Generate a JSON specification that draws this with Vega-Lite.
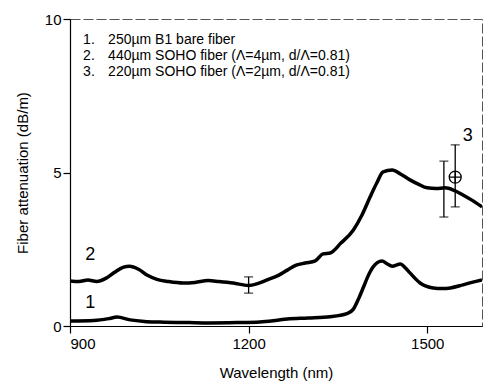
{
  "$schema": "https://vega.github.io/schema/vega-lite/v6.json",
  "width": 412,
  "height": 307,
  "autosize": {"type": "none"},
  "padding": {"left": 70, "top": 19, "right": 1, "bottom": 61},
  "background": "white",
  "config": {
    "font": "Liberation Sans",
    "view": {"stroke": "#555", "strokeWidth": 1, "strokeDash": [10, 3]},
    "axis": {"domainColor": "black", "tickColor": "black", "labelColor": "black", "titleColor": "black", "grid": false, "labelFont": "Liberation Sans", "titleFont": "Liberation Sans", "labelFontSize": 15, "titleFontSize": 15, "titleFontWeight": "normal", "tickSize": 7, "domainWidth": 1.2, "tickWidth": 1.2}
  },
  "datasets": {
    "curves": [
      {"series": "1", "wl": 900, "att": 0.16}, {"series": "1", "wl": 940, "att": 0.18}, {"series": "1", "wl": 965, "att": 0.24}, {"series": "1", "wl": 979, "att": 0.29}, {"series": "1", "wl": 1001, "att": 0.2}, {"series": "1", "wl": 1025, "att": 0.15}, {"series": "1", "wl": 1051, "att": 0.13}, {"series": "1", "wl": 1100, "att": 0.11}, {"series": "1", "wl": 1135, "att": 0.1}, {"series": "1", "wl": 1180, "att": 0.11}, {"series": "1", "wl": 1219, "att": 0.13}, {"series": "1", "wl": 1245, "att": 0.18}, {"series": "1", "wl": 1265, "att": 0.23}, {"series": "1", "wl": 1300, "att": 0.26}, {"series": "1", "wl": 1337, "att": 0.3}, {"series": "1", "wl": 1365, "att": 0.4}, {"series": "1", "wl": 1376, "att": 0.55}, {"series": "1", "wl": 1385, "att": 0.9}, {"series": "1", "wl": 1393, "att": 1.27}, {"series": "1", "wl": 1400, "att": 1.6}, {"series": "1", "wl": 1409, "att": 1.92}, {"series": "1", "wl": 1424, "att": 2.12}, {"series": "1", "wl": 1433, "att": 2.02}, {"series": "1", "wl": 1441, "att": 1.95}, {"series": "1", "wl": 1455, "att": 2.02}, {"series": "1", "wl": 1463, "att": 1.9}, {"series": "1", "wl": 1471, "att": 1.73}, {"series": "1", "wl": 1488, "att": 1.4}, {"series": "1", "wl": 1510, "att": 1.24}, {"series": "1", "wl": 1525, "att": 1.22}, {"series": "1", "wl": 1539, "att": 1.24}, {"series": "1", "wl": 1560, "att": 1.34}, {"series": "1", "wl": 1575, "att": 1.42}, {"series": "1", "wl": 1592, "att": 1.5},
      {"series": "2", "wl": 900, "att": 1.47}, {"series": "2", "wl": 915, "att": 1.45}, {"series": "2", "wl": 930, "att": 1.5}, {"series": "2", "wl": 945, "att": 1.45}, {"series": "2", "wl": 960, "att": 1.55}, {"series": "2", "wl": 975, "att": 1.75}, {"series": "2", "wl": 990, "att": 1.92}, {"series": "2", "wl": 1000, "att": 1.95}, {"series": "2", "wl": 1015, "att": 1.85}, {"series": "2", "wl": 1030, "att": 1.65}, {"series": "2", "wl": 1046, "att": 1.52}, {"series": "2", "wl": 1065, "att": 1.45}, {"series": "2", "wl": 1090, "att": 1.4}, {"series": "2", "wl": 1110, "att": 1.42}, {"series": "2", "wl": 1132, "att": 1.48}, {"series": "2", "wl": 1150, "att": 1.45}, {"series": "2", "wl": 1174, "att": 1.4}, {"series": "2", "wl": 1200, "att": 1.32}, {"series": "2", "wl": 1215, "att": 1.38}, {"series": "2", "wl": 1231, "att": 1.5}, {"series": "2", "wl": 1250, "att": 1.65}, {"series": "2", "wl": 1265, "att": 1.82}, {"series": "2", "wl": 1280, "att": 1.98}, {"series": "2", "wl": 1295, "att": 2.05}, {"series": "2", "wl": 1312, "att": 2.12}, {"series": "2", "wl": 1325, "att": 2.35}, {"series": "2", "wl": 1337, "att": 2.38}, {"series": "2", "wl": 1355, "att": 2.7}, {"series": "2", "wl": 1376, "att": 3.13}, {"series": "2", "wl": 1390, "att": 3.6}, {"series": "2", "wl": 1404, "att": 4.2}, {"series": "2", "wl": 1415, "att": 4.65}, {"series": "2", "wl": 1426, "att": 5.02}, {"series": "2", "wl": 1441, "att": 5.08}, {"series": "2", "wl": 1455, "att": 4.95}, {"series": "2", "wl": 1471, "att": 4.76}, {"series": "2", "wl": 1485, "att": 4.62}, {"series": "2", "wl": 1500, "att": 4.5}, {"series": "2", "wl": 1515, "att": 4.48}, {"series": "2", "wl": 1530, "att": 4.5}, {"series": "2", "wl": 1545, "att": 4.42}, {"series": "2", "wl": 1560, "att": 4.27}, {"series": "2", "wl": 1575, "att": 4.1}, {"series": "2", "wl": 1592, "att": 3.88}
    ],
    "errors": [
      {"wl": 1200, "lo": 1.07, "hi": 1.6},
      {"wl": 1528, "lo": 3.55, "hi": 5.37},
      {"wl": 1547, "lo": 3.88, "hi": 5.9}
    ],
    "marker": [{"wl": 1547, "att": 4.85}],
    "labels": [
      {"wl": 934, "att": 0.75, "label": "1"},
      {"wl": 934, "att": 2.3, "label": "2"},
      {"wl": 1568, "att": 6.2, "label": "3"}
    ],
    "legend": [
      {"wlNum": 922, "wlText": 964, "att": 9.30, "num": "1.", "text": "250µm B1 bare fiber"},
      {"wlNum": 922, "wlText": 964, "att": 8.79, "num": "2.", "text": "440µm SOHO fiber (Λ=4µm, d/Λ=0.81)"},
      {"wlNum": 922, "wlText": 964, "att": 8.28, "num": "3.", "text": "220µm SOHO fiber (Λ=2µm, d/Λ=0.81)"}
    ]
  },
  "layer": [
    {
      "data": {"name": "curves"},
      "mark": {"type": "line", "color": "black", "strokeWidth": 3.5, "interpolate": "monotone", "clip": true},
      "encoding": {
        "x": {"field": "wl", "type": "quantitative", "scale": {"domain": [900, 1592], "nice": false, "zero": false}, "axis": {"values": [900, 1200, 1500], "format": "d", "title": "Wavelength (nm)", "labelPadding": 3, "titlePadding": 14}},
        "y": {"field": "att", "type": "quantitative", "scale": {"domain": [0, 10], "nice": false}, "axis": {"values": [0, 5, 10], "title": "Fiber attenuation (dB/m)", "labelPadding": 2, "titlePadding": 14}},
        "detail": {"field": "series"}
      }
    },
    {
      "data": {"name": "errors"},
      "mark": {"type": "rule", "color": "black", "strokeWidth": 1.3},
      "encoding": {
        "x": {"field": "wl", "type": "quantitative"},
        "y": {"field": "lo", "type": "quantitative"},
        "y2": {"field": "hi"}
      }
    },
    {
      "data": {"name": "errors"},
      "mark": {"type": "tick", "color": "black", "orient": "horizontal", "size": 9, "thickness": 1.3},
      "encoding": {
        "x": {"field": "wl", "type": "quantitative"},
        "y": {"field": "lo", "type": "quantitative"}
      }
    },
    {
      "data": {"name": "errors"},
      "mark": {"type": "tick", "color": "black", "orient": "horizontal", "size": 9, "thickness": 1.3},
      "encoding": {
        "x": {"field": "wl", "type": "quantitative"},
        "y": {"field": "hi", "type": "quantitative"}
      }
    },
    {
      "data": {"name": "marker"},
      "mark": {"type": "point", "shape": "M -1 0 A 1 1 0 1 0 1 0 A 1 1 0 1 0 -1 0 M -1 0 L 1 0 M 0 -1 L 0 1", "filled": false, "stroke": "black", "strokeWidth": 1.3, "size": 144, "opacity": 1},
      "encoding": {
        "x": {"field": "wl", "type": "quantitative"},
        "y": {"field": "att", "type": "quantitative"}
      }
    },
    {
      "data": {"name": "labels"},
      "mark": {"type": "text", "fontSize": 18, "color": "black", "align": "center", "baseline": "middle"},
      "encoding": {
        "x": {"field": "wl", "type": "quantitative"},
        "y": {"field": "att", "type": "quantitative"},
        "text": {"field": "label"}
      }
    },
    {
      "data": {"name": "legend"},
      "mark": {"type": "text", "fontSize": 14, "color": "black", "align": "left", "baseline": "middle"},
      "encoding": {
        "x": {"field": "wlNum", "type": "quantitative"},
        "y": {"field": "att", "type": "quantitative"},
        "text": {"field": "num"}
      }
    },
    {
      "data": {"name": "legend"},
      "mark": {"type": "text", "fontSize": 14, "color": "black", "align": "left", "baseline": "middle"},
      "encoding": {
        "x": {"field": "wlText", "type": "quantitative"},
        "y": {"field": "att", "type": "quantitative"},
        "text": {"field": "text"}
      }
    }
  ]
}
